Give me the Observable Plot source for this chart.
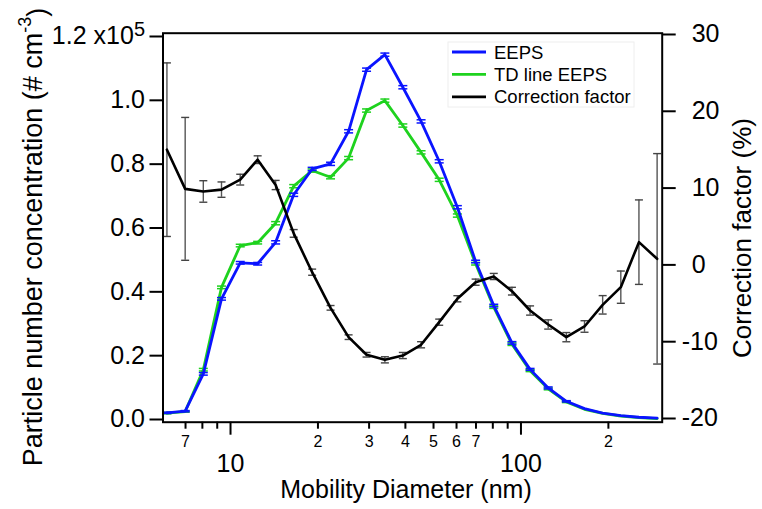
<!DOCTYPE html>
<html><head><meta charset="utf-8">
<script src="https://cdn.jsdelivr.net/npm/d3@7"></script>
<script src="https://cdn.jsdelivr.net/npm/@observablehq/plot@0.6"></script>
<style>
html,body{margin:0;padding:0;background:#fff;}
#chart{width:762px;height:509px;}
</style></head><body><div id="chart"></div>
<script>
// Mobility diameter (nm) of the EEPS channels
const diameters = [6.04, 6.98, 8.06, 9.31, 10.8, 12.4, 14.3, 16.5, 19.1, 22.1, 25.5, 29.4, 34.0, 39.2, 45.3, 52.3, 60.4, 69.8, 80.6, 93.1, 107.5, 124.1, 143.3, 165.5, 191.1, 220.7, 254.8, 294.3];
// Particle number concentration, in units of 1e5 cm^-3
const eeps    = [0.021, 0.026, 0.143, 0.378, 0.491, 0.488, 0.555, 0.704, 0.785, 0.801, 0.903, 1.096, 1.143, 1.041, 0.934, 0.809, 0.665, 0.495, 0.357, 0.240, 0.157, 0.099, 0.057, 0.034, 0.020, 0.012, 0.007, 0.004];
const eepsErr = [0.002, 0.002, 0.004, 0.004, 0.004, 0.004, 0.005, 0.005, 0.005, 0.005, 0.005, 0.005, 0.005, 0.005, 0.005, 0.005, 0.005, 0.004, 0.004, 0.004, 0.003, 0.003, 0.002, 0, 0, 0, 0, 0];
const tdLine  = [0.020, 0.025, 0.156, 0.414, 0.545, 0.554, 0.615, 0.731, 0.780, 0.759, 0.819, 0.968, 0.999, 0.921, 0.837, 0.751, 0.639, 0.488, 0.352, 0.236, 0.153, 0.096, 0.055, 0.032, 0.019, 0.011, 0.006, 0.003];
const tdErr   = [0.002, 0.002, 0.004, 0.004, 0.004, 0.004, 0.005, 0.005, 0.005, 0.005, 0.005, 0.005, 0.005, 0.005, 0.005, 0.005, 0.005, 0.004, 0.004, 0.004, 0.003, 0.003, 0.002, 0, 0, 0, 0, 0];
// Correction factor (%)
const corrFactor = [15.0, 9.9, 9.56, 9.8, 11.1, 13.7, 10.4, 4.1, -0.95, -5.59, -9.41, -11.7, -12.36, -11.8, -10.4, -7.46, -4.41, -2.25, -1.51, -3.42, -5.94, -7.76, -9.41, -8.02, -5.2, -2.9, 2.96, 0.79];
const corrErr    = [11.3, 9.3, 1.4, 1.0, 0.7, 0.5, 0.6, 0.5, 0.4, 0.3, 0.3, 0.3, 0.4, 0.4, 0.4, 0.4, 0.4, 0.4, 0.4, 0.5, 0.6, 0.6, 0.6, 0.75, 1.2, 2.1, 5.5, 13.7];

const leftTicks = [0, 0.2, 0.4, 0.6, 0.8, 1.0, 1.2];
const rightTicks = [-20, -10, 0, 10, 20, 30];
const xMinorTicks = [7, 8, 9, 20, 30, 40, 50, 60, 70, 80, 90, 200];
const xMinorLabels = ["7", "", "", "2", "3", "4", "5", "6", "7", "", "", "2"];
const xMajorTicks = [10, 100];
const xMajorLabels = ["10", "100"];
const seriesNames = ["EEPS", "TD line EEPS", "Correction factor"];
const seriesColors = ["#0a14ff", "#1ed21e", "#000000"];

// right axis (correction %) expressed on the left axis scale
const toLeft = c => 0.003133 + (c + 20) * 0.024063;
const fromLeft = v => Math.round((v - 0.003133) / 0.024063 - 20);

const rows = diameters.map((d, i) => ({
  d, e: eeps[i], eE: eepsErr[i], t: tdLine[i], tE: tdErr[i],
  c: toLeft(corrFactor[i]), cLo: toLeft(corrFactor[i] - corrErr[i]), cHi: toLeft(corrFactor[i] + corrErr[i])
}));
const eRows = rows.filter(r => r.eE > 0);
const tRows = rows.filter(r => r.tE > 0);
const minorLab = xMinorTicks.map((d, i) => ({d, s: xMinorLabels[i]})).filter(o => o.s);
const majorLab = xMajorTicks.map((d, i) => ({d, s: xMajorLabels[i]}));

const cap = w => ({draw(ctx) { ctx.moveTo(-w, 0); ctx.lineTo(w, 0); }});

const FONT = "'Liberation Sans', Arial, sans-serif";

const plot = Plot.plot({
  width: 762, height: 509,
  marginLeft: 162.5, marginRight: 100.3, marginTop: 32.7, marginBottom: 87.3,
  style: {fontFamily: FONT, color: "#000", background: "#fff", overflow: "visible"},
  x: {type: "log", domain: [5.855, 306.4], axis: null},
  y: {domain: [-0.00846, 1.2103], axis: null},
  marks: [
    // TD line EEPS
    Plot.ruleX(tRows, {x: "d", y1: r => r.t - r.tE, y2: r => r.t + r.tE, stroke: seriesColors[1], strokeWidth: 1.5}),
    Plot.dot(tRows, {x: "d", y: r => r.t - r.tE, symbol: cap(4.5), r: 4, fill: "none", stroke: seriesColors[1], strokeWidth: 1.5}),
    Plot.dot(tRows, {x: "d", y: r => r.t + r.tE, symbol: cap(4.5), r: 4, fill: "none", stroke: seriesColors[1], strokeWidth: 1.5}),
    Plot.line(rows, {x: "d", y: "t", stroke: seriesColors[1], strokeWidth: 2.8}),
    // EEPS
    Plot.ruleX(eRows, {x: "d", y1: r => r.e - r.eE, y2: r => r.e + r.eE, stroke: seriesColors[0], strokeWidth: 1.5}),
    Plot.dot(eRows, {x: "d", y: r => r.e - r.eE, symbol: cap(4.5), r: 4, fill: "none", stroke: seriesColors[0], strokeWidth: 1.5}),
    Plot.dot(eRows, {x: "d", y: r => r.e + r.eE, symbol: cap(4.5), r: 4, fill: "none", stroke: seriesColors[0], strokeWidth: 1.5}),
    Plot.line(rows, {x: "d", y: "e", stroke: seriesColors[0], strokeWidth: 2.8}),
    // Correction factor
    Plot.ruleX(rows, {x: "d", y1: "cLo", y2: "cHi", stroke: "#555", strokeWidth: 1.4}),
    Plot.dot(rows, {x: "d", y: "cLo", symbol: cap(4), r: 4, fill: "none", stroke: "#444", strokeWidth: 1.4}),
    Plot.dot(rows, {x: "d", y: "cHi", symbol: cap(4), r: 4, fill: "none", stroke: "#444", strokeWidth: 1.4}),
    Plot.line(rows, {x: "d", y: "c", stroke: seriesColors[2], strokeWidth: 2.6}),
    // axes
    Plot.axisY(leftTicks, {anchor: "left", tickSize: 13, tickPadding: 5, fontSize: 25, strokeWidth: 2,
      tickFormat: d => d === 1.2 ? "1.2 x10" : d.toFixed(1), label: null}),
    Plot.axisY(rightTicks.filter(c => c >= 0).map(toLeft), {anchor: "right", tickSize: 13, tickPadding: 16.5, fontSize: 25, strokeWidth: 2,
      tickFormat: v => String(fromLeft(v)), label: null}),
    Plot.axisY(rightTicks.filter(c => c < 0).map(toLeft), {anchor: "right", tickSize: 13, tickPadding: 6.5, fontSize: 25, strokeWidth: 2,
      tickFormat: v => String(fromLeft(v)), label: null}),
    Plot.axisX(xMinorTicks, {anchor: "bottom", tickSize: 7, strokeWidth: 2, text: null, label: null}),
    Plot.axisX(xMajorTicks, {anchor: "bottom", tickSize: 13, strokeWidth: 2, text: null, label: null}),
    Plot.text(minorLab, {x: "d", text: "s", frameAnchor: "bottom", dy: 20, fontSize: 16, lineAnchor: "middle", fill: "#000"}),
    Plot.text(majorLab, {x: "d", text: "s", frameAnchor: "bottom", dy: 41.5, fontSize: 25, lineAnchor: "middle", fill: "#000"}),
    Plot.frame({stroke: "#000", strokeWidth: 2})
  ]
});

document.getElementById("chart").appendChild(plot);
const svg = d3.select(plot);

// superscript on the top tick label
svg.selectAll("text").filter(function() { return this.textContent === "1.2 x10"; })
  .append("tspan").attr("dy", "-0.42em").attr("font-size", "20px").text("5");

// axis titles
svg.append("text")
  .attr("transform", "translate(33,237) rotate(-90)")
  .attr("text-anchor", "middle").attr("dominant-baseline", "central")
  .attr("font-size", 27).attr("font-family", FONT).attr("fill", "#000")
  .call(t => {
    t.append("tspan").text("Particle number concentration (# cm");
    t.append("tspan").attr("dy", "-0.45em").attr("font-size", "18px").text("-3");
    t.append("tspan").attr("dy", "0.45em").text(")");
  });
svg.append("text")
  .attr("transform", "translate(742,238) rotate(-90)")
  .attr("text-anchor", "middle").attr("dominant-baseline", "central")
  .attr("font-size", 26).attr("font-family", FONT).attr("fill", "#000")
  .text("Correction factor (%)");
svg.append("text")
  .attr("x", 406).attr("y", 489)
  .attr("text-anchor", "middle").attr("dominant-baseline", "central")
  .attr("font-size", 25).attr("font-family", FONT).attr("fill", "#000")
  .text("Mobility Diameter (nm)");

// legend
const lg = svg.append("g").attr("text-anchor", "start");
lg.append("rect").attr("x", 448).attr("y", 42).attr("width", 186).attr("height", 65)
  .attr("fill", "#fff").attr("stroke", "#eeeeee").attr("stroke-width", 1);
seriesNames.forEach((name, i) => {
  const y = 52 + i * 22.4;
  lg.append("line").attr("x1", 452).attr("x2", 486).attr("y1", y).attr("y2", y)
    .attr("stroke", seriesColors[i]).attr("stroke-width", 2.8);
  lg.append("text").attr("x", 494).attr("y", y).attr("dominant-baseline", "central")
    .attr("text-anchor", "start")
    .attr("font-size", 18.5).attr("font-family", FONT).attr("fill", "#000").text(name);
});
</script>
</body></html>
